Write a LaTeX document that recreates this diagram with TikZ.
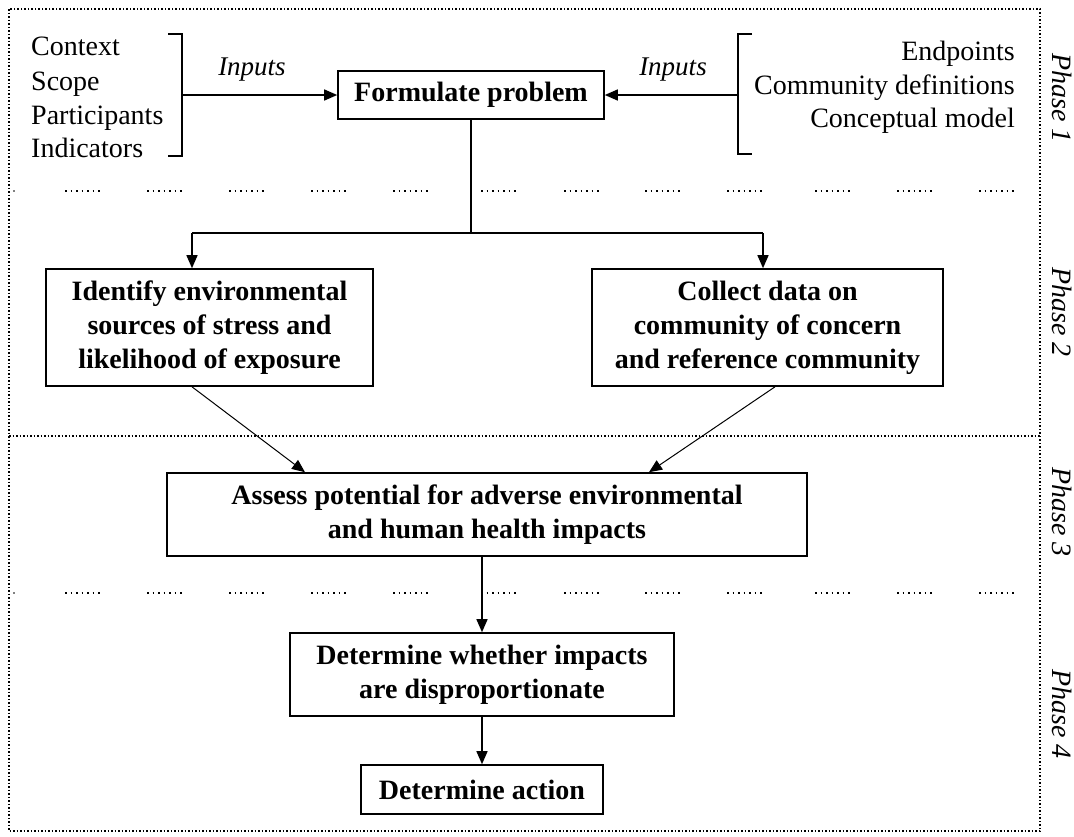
\documentclass[tikz,border=0pt]{standalone}
\usepackage{fontspec}
\setmainfont{Liberation Serif}
\usetikzlibrary{arrows.meta}
\begin{document}
\begin{tikzpicture}[x=1pt,y=-1pt,
  box/.style={draw, line width=1.6pt, inner sep=0pt, align=center,
    font=\fontsize{28}{34}\selectfont\bfseries},
  lst/.style={inner sep=0pt, font=\fontsize{28}{34}\selectfont},
  inp/.style={inner sep=0pt, font=\fontsize{27}{30}\selectfont\itshape},
  phase/.style={inner sep=0pt, rotate=-90, font=\fontsize{28}{30}\selectfont\itshape},
  line/.style={line width=1.4pt},
  conn/.style={line width=1.4pt, -{Triangle[length=13pt,width=11pt]}},
  diag/.style={line width=1pt, -{Triangle[length=13pt,width=11pt]}},
  brd/.style={line width=1.5pt, dash pattern=on 1.5pt off 2pt},
  grp/.style={line width=1.5pt, dash pattern=on 1.5pt off 4pt}
]
\useasboundingbox (0,0) rectangle (1074,836);

% frame and phase separators
\draw[brd] (9,9) rectangle (1040,831);
\draw[brd] (9,436) -- (1040,436);
\foreach \x in {65,147,229,311,393,481,564,645,727,815,897,979} {
  \draw[grp] (\x,191) -- ++(38,0);
  \draw[grp] (\x,593) -- ++(38,0);
}
\fill (14,191) circle (0.8pt);
\fill (14,593) circle (0.8pt);

% phase labels
\node[phase] (p1) at (1062,98) {Phase 1};
\node[phase] (p2) at (1062,312) {Phase 2};
\node[phase] (p3) at (1062,512) {Phase 3};
\node[phase] (p4) at (1062,714) {Phase 4};

% boxes
\node[box, minimum width=266pt, minimum height=48pt] (form) at (471,95) {Formulate problem};
\node[box, minimum width=327pt, minimum height=117pt] (ident) at (209.5,327.5)
  {Identify environmental\\sources of stress and\\likelihood of exposure};
\node[box, minimum width=351pt, minimum height=117pt] (collect) at (767.5,327.5)
  {Collect data on\\community of concern\\and reference community};
\node[box, minimum width=640pt, minimum height=83pt] (assess) at (487,514.5)
  {Assess potential for adverse environmental\\and human health impacts};
\node[box, minimum width=384pt, minimum height=83pt] (det) at (482,674.5)
  {Determine whether impacts\\are disproportionate};
\node[box, minimum width=242pt, minimum height=49pt] (act) at (482,789.5)
  {Determine action};

% left inputs
\node[lst, anchor=base west] (ctx) at (31,55) {Context};
\node[lst, anchor=base west] (scp) at (31,90) {Scope};
\node[lst, anchor=base west] (prt) at (31,124) {Participants};
\node[lst, anchor=base west] (ind) at (31,157) {Indicators};
\draw[line] (168,34) -- (182,34) -- (182,156) -- (168,156);
\coordinate (lbr) at (182,95);
\node[inp] (inl) at (252,70) {Inputs};
\draw[conn] (lbr) -- (form.west);

% right inputs
\node[lst, anchor=base east] (end) at (1015,60) {Endpoints};
\node[lst, anchor=base east] (cdf) at (1015,94) {Community definitions};
\node[lst, anchor=base east] (cmd) at (1015,127) {Conceptual model};
\draw[line] (752,34) -- (738,34) -- (738,154) -- (752,154);
\coordinate (rbr) at (738,95);
\node[inp] (inr) at (673,70) {Inputs};
\draw[conn] (rbr) -- (form.east);

% split to phase 2
\coordinate (split) at (471,233);
\coordinate (hl) at (192,233);
\coordinate (hr) at (763,233);
\draw[line] (form.south) -- (split);
\draw[line] (hl) -- (hr);
\draw[conn] (hl) -- (hl |- ident.north);
\draw[conn] (hr) -- (hr |- collect.north);

% phase 2 to phase 3
\draw[diag] ([xshift=-17.5pt]ident.south) -- ([xshift=-182pt]assess.north);
\draw[diag] ([xshift=7.5pt]collect.south) -- ([xshift=162pt]assess.north);

% phase 3 to 4
\draw[conn] (det.north |- assess.south) -- (det.north);
\draw[conn] (det.south) -- (act.north);
\end{tikzpicture}
\end{document}
